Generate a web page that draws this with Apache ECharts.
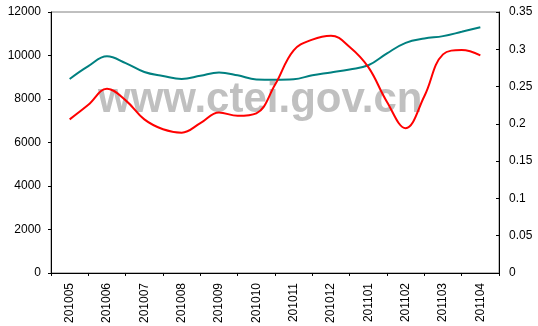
<!DOCTYPE html>
<html>
<head>
<meta charset="utf-8">
<script src="https://cdn.jsdelivr.net/npm/echarts@6/dist/echarts.min.js"></script>
<style>
html,body{margin:0;padding:0;background:#fff;}
#c{width:538px;height:326px;}
</style>
</head>
<body>
<div id="c"></div>
<script>
// Month labels on the x axis
var months = ['201005','201006','201007','201008','201009','201010','201011','201012','201101','201102','201103','201104'];
// Sample positions (in months from 201005), half-month steps
var samplePos = [0,0.5,1,1.5,2,2.5,3,3.5,4,4.5,5,5.5,6,6.5,7,7.5,8,8.5,9,9.5,10,10.5,11];
// Teal series (left axis)
var tealValues = [8920,9510,9960,9650,9240,9060,8920,9070,9220,9090,8900,8890,8910,9090,9220,9360,9550,10100,10580,10780,10890,11090,11300];
// Red series (right axis)
var redValues = [0.206,0.2255,0.247,0.2315,0.206,0.1928,0.1882,0.2008,0.2153,0.2107,0.214,0.2523,0.2985,0.313,0.3183,0.3031,0.276,0.2294,0.1942,0.2371,0.2932,0.2989,0.2919];
// Axis tick settings
var leftMax = 12000, leftStep = 2000;
var rightMax = 0.35, rightStep = 0.05;

function pairs(pos, vals){ return vals.map(function(v,i){ return [pos[i], v]; }); }

var font = 'Liberation Sans, Arial, sans-serif';
var chart = echarts.init(document.getElementById('c'), null, {renderer:'canvas'});
chart.setOption({
  animation: false,
  backgroundColor: '#ffffff',
  grid: {left: 51, right: 39, top: 12, bottom: 49, show: true, borderColor: '#808080', borderWidth: 1, backgroundColor: 'transparent'},
  graphic: [{
    type: 'text', left: 98, top: 79, z: 1, silent: true,
    style: {text: 'www.ctei.gov.cn', fill: '#c0c0c0', font: 'bold 42px "Liberation Sans", Arial, sans-serif'}
  }],
  xAxis: [{
    type: 'category', data: months, boundaryGap: true, position: 'bottom',
    axisLine: {show: true, onZero: false, lineStyle: {color: '#000', width: 1}},
    axisTick: {show: true, length: 3, alignWithLabel: false, lineStyle: {color: '#000'}},
    axisLabel: {rotate: 90, interval: 0, margin: 10, color: '#000', fontSize: 12, fontFamily: font},
    splitLine: {show: false}
  }, {
    type: 'value', min: -0.5, max: 11.5, show: false, axisLine: {onZero: false}, splitLine: {show: false}
  }],
  yAxis: [{
    type: 'value', min: 0, max: leftMax, interval: leftStep, position: 'left',
    axisLine: {show: true, onZero: false, lineStyle: {color: '#000', width: 1}},
    axisTick: {show: true, length: 3, lineStyle: {color: '#000'}},
    axisLabel: {margin: 10, color: '#000', fontSize: 12, fontFamily: font, formatter: function(v){ return String(v); }},
    splitLine: {show: false}
  }, {
    type: 'value', min: 0, max: rightMax, interval: rightStep, position: 'right',
    axisLine: {show: true, onZero: false, lineStyle: {color: '#000', width: 1}},
    axisTick: {show: true, inside: true, length: 3, lineStyle: {color: '#000'}},
    axisLabel: {margin: 10, color: '#000', fontSize: 12, fontFamily: font, formatter: function(v){ return String(+v.toFixed(2)); }},
    splitLine: {show: false}
  }],
  series: [{
    type: 'line', name: 'teal', xAxisIndex: 1, yAxisIndex: 0,
    data: pairs(samplePos, tealValues), smooth: 0.4, showSymbol: false,
    lineStyle: {color: '#008080', width: 2}, z: 3
  }, {
    type: 'line', name: 'red', xAxisIndex: 1, yAxisIndex: 1,
    data: pairs(samplePos, redValues), smooth: 0.4, showSymbol: false,
    lineStyle: {color: '#ff0000', width: 2}, z: 4
  }]
});
</script>
</body>
</html>
